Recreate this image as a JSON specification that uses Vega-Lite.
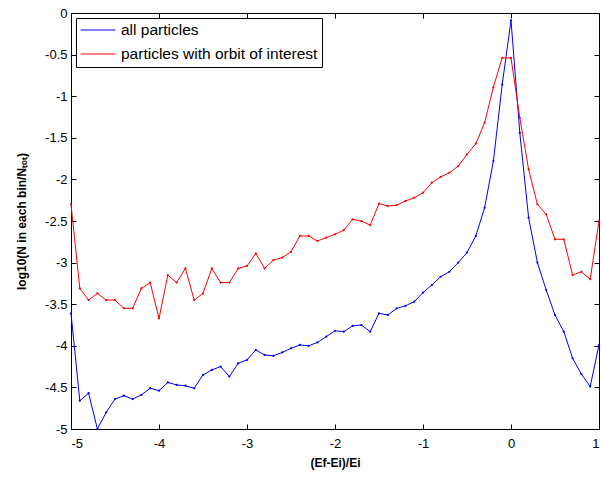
{
  "$schema": "https://vega.github.io/schema/vega-lite/v6.json",
  "autosize": "none",
  "width": 528,
  "height": 416,
  "padding": {"left": 71, "top": 13, "right": 2, "bottom": 49},
  "background": "white",
  "config": {
    "font": "Liberation Sans",
    "view": {"stroke": null},
    "axis": {"grid": false, "domainColor": "black", "tickColor": "black", "labelColor": "black", "titleColor": "black", "labelFontSize": 13, "titleFontSize": 12, "titleFontWeight": "bold", "tickSize": -5, "domainWidth": 1, "tickWidth": 1}
  },
  "data": {"values": [
    {"x": -5.0, "all": -3.61, "orbit": -2.30},
    {"x": -4.9, "all": -4.66, "orbit": -3.31},
    {"x": -4.8, "all": -4.57, "orbit": -3.45},
    {"x": -4.7, "all": -5.0, "orbit": -3.37},
    {"x": -4.6, "all": -4.80, "orbit": -3.45},
    {"x": -4.5, "all": -4.64, "orbit": -3.45},
    {"x": -4.4, "all": -4.60, "orbit": -3.55},
    {"x": -4.3, "all": -4.64, "orbit": -3.55},
    {"x": -4.2, "all": -4.59, "orbit": -3.31},
    {"x": -4.1, "all": -4.51, "orbit": -3.24},
    {"x": -4.0, "all": -4.54, "orbit": -3.67},
    {"x": -3.9, "all": -4.44, "orbit": -3.15},
    {"x": -3.8, "all": -4.47, "orbit": -3.24},
    {"x": -3.7, "all": -4.48, "orbit": -3.07},
    {"x": -3.6, "all": -4.51, "orbit": -3.45},
    {"x": -3.5, "all": -4.35, "orbit": -3.37},
    {"x": -3.4, "all": -4.29, "orbit": -3.07},
    {"x": -3.3, "all": -4.25, "orbit": -3.24},
    {"x": -3.2, "all": -4.37, "orbit": -3.24},
    {"x": -3.1, "all": -4.21, "orbit": -3.07},
    {"x": -3.0, "all": -4.17, "orbit": -3.04},
    {"x": -2.9, "all": -4.05, "orbit": -2.89},
    {"x": -2.8, "all": -4.11, "orbit": -3.07},
    {"x": -2.7, "all": -4.12, "orbit": -2.97},
    {"x": -2.6, "all": -4.08, "orbit": -2.94},
    {"x": -2.5, "all": -4.03, "orbit": -2.87},
    {"x": -2.4, "all": -3.99, "orbit": -2.68},
    {"x": -2.3, "all": -4.00, "orbit": -2.68},
    {"x": -2.2, "all": -3.96, "orbit": -2.74},
    {"x": -2.1, "all": -3.89, "orbit": -2.70},
    {"x": -2.0, "all": -3.82, "orbit": -2.66},
    {"x": -1.9, "all": -3.83, "orbit": -2.61},
    {"x": -1.8, "all": -3.76, "orbit": -2.48},
    {"x": -1.7, "all": -3.75, "orbit": -2.50},
    {"x": -1.6, "all": -3.83, "orbit": -2.55},
    {"x": -1.5, "all": -3.61, "orbit": -2.29},
    {"x": -1.4, "all": -3.63, "orbit": -2.32},
    {"x": -1.3, "all": -3.55, "orbit": -2.31},
    {"x": -1.2, "all": -3.52, "orbit": -2.26},
    {"x": -1.1, "all": -3.47, "orbit": -2.22},
    {"x": -1.0, "all": -3.36, "orbit": -2.16},
    {"x": -0.9, "all": -3.27, "orbit": -2.04},
    {"x": -0.8, "all": -3.17, "orbit": -1.97},
    {"x": -0.7, "all": -3.11, "orbit": -1.92},
    {"x": -0.6, "all": -3.00, "orbit": -1.84},
    {"x": -0.5, "all": -2.88, "orbit": -1.70},
    {"x": -0.4, "all": -2.68, "orbit": -1.57},
    {"x": -0.3, "all": -2.34, "orbit": -1.32},
    {"x": -0.2, "all": -1.78, "orbit": -0.89},
    {"x": -0.1, "all": -0.86, "orbit": -0.54},
    {"x": 0.0, "all": -0.09, "orbit": -0.54},
    {"x": 0.1, "all": -1.44, "orbit": -1.26},
    {"x": 0.2, "all": -2.46, "orbit": -1.88},
    {"x": 0.3, "all": -3.00, "orbit": -2.30},
    {"x": 0.4, "all": -3.33, "orbit": -2.42},
    {"x": 0.5, "all": -3.63, "orbit": -2.72},
    {"x": 0.6, "all": -3.83, "orbit": -2.72},
    {"x": 0.7, "all": -4.15, "orbit": -3.15},
    {"x": 0.8, "all": -4.34, "orbit": -3.11},
    {"x": 0.9, "all": -4.49, "orbit": -3.20},
    {"x": 1.0, "all": -3.99, "orbit": -2.50}
  ]},
  "transform": [
    {"fold": ["all", "orbit"], "as": ["series", "value"]},
    {"calculate": "datum.series === 'all' ? 'all particles' : 'particles with orbit of interest'", "as": "label"}
  ],
  "layer": [
    {
      "mark": {"type": "line", "strokeWidth": 1, "point": {"filled": true, "size": 5}},
      "encoding": {
        "x": {"field": "x", "type": "quantitative", "scale": {"domain": [-5, 1], "nice": false, "zero": false},
          "axis": {"orient": "bottom", "title": "(Ef-Ei)/Ei", "values": [-5, -4, -3, -2, -1, 0, 1], "labelExpr": "datum.value + ''", "labelPadding": 13, "titlePadding": 7}},
        "y": {"field": "value", "type": "quantitative", "scale": {"domain": [-5, 0], "nice": false, "zero": false},
          "axis": {"orient": "left", "title": "log10(N in each bin/Nₜₒₜ)", "values": [-5, -4.5, -4, -3.5, -3, -2.5, -2, -1.5, -1, -0.5, 0], "labelExpr": "datum.value + ''", "labelPadding": 9, "titlePadding": 16}},
        "color": {"field": "label", "type": "nominal",
          "scale": {"domain": ["all particles", "particles with orbit of interest"], "range": ["#0000ff", "#ff0000"]},
          "legend": {"title": null, "orient": "top-left", "offset": 5, "symbolType": "stroke", "symbolSize": 1225, "symbolStrokeWidth": 1, "clipHeight": 16, "labelFontSize": 15.5, "labelLimit": 400, "labelColor": "black", "fillColor": "white", "strokeColor": "black", "padding": 4, "rowPadding": 7, "labelOffset": 5, "cornerRadius": 0}},
        "detail": {"field": "series"}
      }
    },
    {
      "mark": {"type": "line", "opacity": 0},
      "encoding": {
        "x": {"field": "x", "type": "quantitative", "axis": {"orient": "top", "title": null, "labels": false, "values": [-5, -4, -3, -2, -1, 0, 1]}},
        "y": {"field": "value", "type": "quantitative", "axis": {"orient": "right", "title": null, "labels": false, "values": [-5, -4.5, -4, -3.5, -3, -2.5, -2, -1.5, -1, -0.5, 0]}},
        "detail": {"field": "series"}
      }
    }
  ],
  "resolve": {"axis": {"x": "independent", "y": "independent"}}
}
